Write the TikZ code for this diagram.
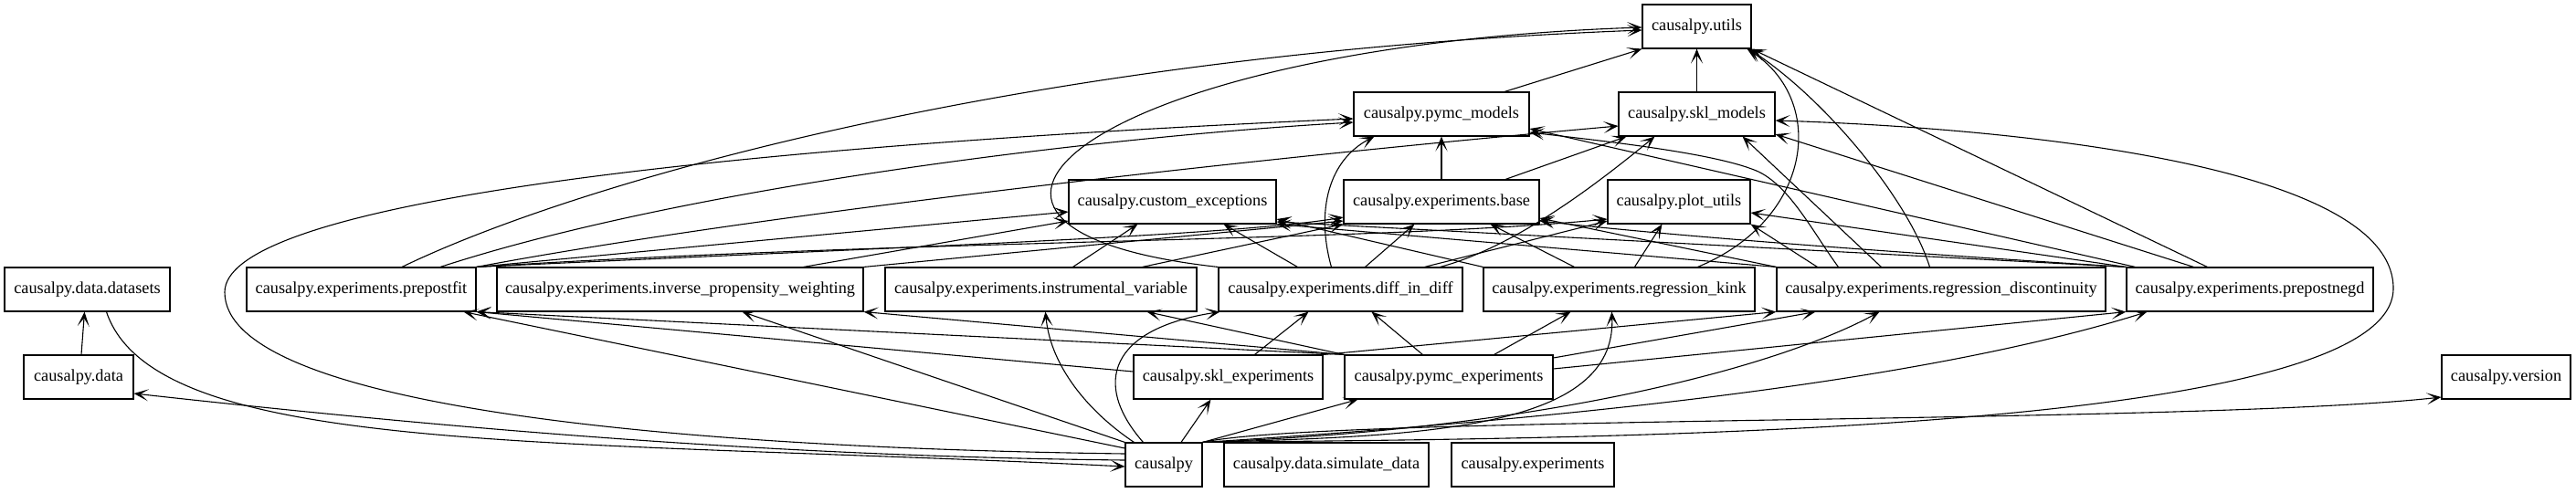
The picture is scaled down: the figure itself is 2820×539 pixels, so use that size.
\documentclass[tikz,border=0pt]{standalone}
\usepackage{fontspec}
\setmainfont{Liberation Serif}
\usepackage{tikz}
\usetikzlibrary{arrows.meta,calc}
\tikzset{
    module/.style={rectangle, draw, line width=1.1pt, minimum height=48pt, inner xsep=2pt,
      font=\fontsize{18.3}{20}\selectfont},
    dep/.style={-{Stealth[length=16pt,width=13pt,inset=9pt]}, line width=1.1pt},
}
\begin{document}
\begin{tikzpicture}[x=1pt,y=-1pt]
\useasboundingbox (0,0) rectangle (2820,539);

% top rows
\node[module, minimum width=119pt] (utils) at (1857.5,29) {causalpy.utils};
\node[module, minimum width=192pt] (pymcmodels) at (1578,125) {causalpy.pymc\_models};
\node[module, minimum width=171pt] (sklmodels) at (1857.5,125) {causalpy.skl\_models};
\node[module, minimum width=227pt] (exceptions) at (1283.5,221) {causalpy.custom\_exceptions};
\node[module, minimum width=214pt] (base) at (1578,221) {causalpy.experiments.base};
\node[module, minimum width=156pt] (plotutils) at (1838,221) {causalpy.plot\_utils};

% experiment row
\node[module, minimum width=181pt] (datasets) at (95.5,317) {causalpy.data.datasets};
\node[module, minimum width=251pt] (prepostfit) at (395.5,317) {causalpy.experiments.prepostfit};
\node[module, minimum width=401pt] (ipw) at (744.5,317) {causalpy.experiments.inverse\_propensity\_weighting};
\node[module, minimum width=341pt] (iv) at (1139.5,317) {causalpy.experiments.instrumental\_variable};
\node[module, minimum width=267pt] (did) at (1467.5,317) {causalpy.experiments.diff\_in\_diff};
\node[module, minimum width=297pt] (kink) at (1772.5,317) {causalpy.experiments.regression\_kink};
\node[module, minimum width=360pt] (rdd) at (2125,317) {causalpy.experiments.regression\_discontinuity};
\node[module, minimum width=270pt] (negd) at (2463,317) {causalpy.experiments.prepostnegd};

% bottom rows
\node[module, minimum width=120pt] (data) at (86,413) {causalpy.data};
\node[module, minimum width=207pt] (sklexp) at (1344.5,413) {causalpy.skl\_experiments};
\node[module, minimum width=228pt] (pymcexp) at (1586,413) {causalpy.pymc\_experiments};
\node[module, minimum width=141pt] (version) at (2743.5,413) {causalpy.version};
\node[module, minimum width=84pt] (causalpy) at (1274,509) {causalpy};
\node[module, minimum width=224pt] (simdata) at (1452,509) {causalpy.data.simulate\_data};
\node[module, minimum width=178pt] (experiments) at (1678,509) {causalpy.experiments};

% models and utils
\draw[dep] ($(pymcmodels.north)+(69,0)$) -- (utils.south west);
\draw[dep] (sklmodels.north) -- (utils.south);
\draw[dep] (base.north) -- (pymcmodels.south);
\draw[dep] ($(base.north)+(70,0)$) -- ($(sklmodels.south west)+(9,0)$);
\draw[dep] ($(data.north)+(3,0)$) -- ($(datasets.south)+(-3,0)$);

% prepostfit
\draw[dep] ($(prepostfit.north)+(44.5,0)$) .. controls (620,205) and (1100,60) .. ($(utils.west)+(0,4)$);
\draw[dep] ($(prepostfit.north)+(86.5,0)$) .. controls (750,205) and (1200,150) .. ($(pymcmodels.west)+(0,9)$);
\draw[dep] (prepostfit.north east) .. controls (800,240) and (1300,180) .. ($(sklmodels.west)+(0,13)$);
\draw[dep] (prepostfit.north east) -- ($(exceptions.west)+(0,11)$);
\draw[dep] (prepostfit.north east) .. controls (1000,270) and (1350,258) .. ($(base.west)+(0,17)$);
\draw[dep] (prepostfit.north east) .. controls (1000,262) and (1500,265) .. ($(plotutils.west)+(0,19)$);

% inverse propensity weighting, instrumental variable
\draw[dep] ($(ipw.north west)+(336,0)$) -- ($(exceptions.west)+(0,21)$);
\draw[dep] (ipw.north east) -- ($(base.west)+(0,21)$);
\draw[dep] ($(iv.north west)+(206,0)$) -- ($(exceptions.south west)+(76,0)$);
\draw[dep] ($(iv.north west)+(282,0)$) -- (base.south west);

% diff in diff
\draw[dep] ($(did.north west)+(87,0)$) -- ($(exceptions.south east)+(-58,0)$);
\draw[dep] ($(did.north west)+(124,0)$) .. controls (1440,230) and (1455,175) .. ($(pymcmodels.south west)+(23,0)$);
\draw[dep] ($(did.north west)+(161,0)$) -- ($(base.south west)+(78,0)$);
\draw[dep] ($(did.north west)+(226,0)$) -- ($(plotutils.west)+(0,21)$);
\draw[dep] ($(did.north west)+(243,0)$) .. controls (1660,270) and (1750,200) .. ($(sklmodels.south west)+(40,0)$);
\draw[dep] (did.north west) .. controls (950,250) and (1200,50) .. ($(utils.west)+(0,1)$);

% regression kink
\draw[dep] (kink.north west) -- ($(exceptions.east)+(0,19)$);
\draw[dep] ($(kink.north west)+(100,0)$) -- ($(base.south east)+(-54,0)$);
\draw[dep] ($(kink.north west)+(166,0)$) -- ($(plotutils.south west)+(60,0)$);
\draw[dep] ($(kink.north west)+(235,0)$) .. controls (1985,240) and (2000,110) .. ($(utils.south east)+(-5,0)$);

% regression discontinuity
\draw[dep] (rdd.north west) -- (exceptions.south east);
\draw[dep] (rdd.north west) -- ($(base.east)+(0,18)$);
\draw[dep] ($(rdd.north west)+(45,0)$) -- (plotutils.south east);
\draw[dep] ($(rdd.north west)+(68,0)$) .. controls (1985,255) and (1960,205) .. (1925,188)
    .. controls (1880,168) and (1760,155) .. ($(pymcmodels.east)+(0,20)$);
\draw[dep] ($(rdd.north west)+(115,0)$) -- ($(sklmodels.south east)+(-36,0)$);
\draw[dep] ($(rdd.north west)+(168,0)$) .. controls (2090,220) and (2000,110) .. ($(utils.south east)+(-3,0)$);

% prepostnegd
\draw[dep] (negd.north west) -- ($(exceptions.east)+(0,22)$);
\draw[dep] (negd.north west) .. controls (2000,272) and (1800,255) .. ($(base.east)+(0,21)$);
\draw[dep] (negd.north west) -- ($(plotutils.east)+(0,12)$);
\draw[dep] ($(negd.north west)+(10,0)$) -- ($(pymcmodels.east)+(0,16)$);
\draw[dep] ($(negd.north west)+(74,0)$) -- ($(sklmodels.east)+(0,22)$);
\draw[dep] ($(negd.north west)+(89,0)$) -- (utils.south east);

% pymc and skl experiments
\draw[dep] (pymcexp.north west) -- (prepostfit.south east);
\draw[dep] (pymcexp.north west) -- (ipw.south east);
\draw[dep] (pymcexp.north west) -- ($(iv.south east)+(-55,0)$);
\draw[dep] ($(pymcexp.north west)+(86,0)$) -- ($(did.south west)+(168,0)$);
\draw[dep] ($(pymcexp.north east)+(-65,0)$) -- ($(kink.south west)+(96,0)$);
\draw[dep] ($(pymcexp.east)+(0,-21)$) -- ($(rdd.south west)+(43,0)$);
\draw[dep] ($(pymcexp.east)+(0,-9)$) -- (negd.south west);
\draw[dep] ($(sklexp.north west)+(133,0)$) -- ($(did.south west)+(99,0)$);
\draw[dep] (sklexp.north east) -- (rdd.south west);
\draw[dep] ($(sklexp.west)+(0,-6)$) -- (prepostfit.south east);

% causalpy
\draw[dep] (causalpy.north west) -- ($(ipw.south west)+(269,0)$);
\draw[dep] ($(causalpy.west)+(0,-18)$) -- ($(prepostfit.south east)+(-14,0)$);
\draw[dep] ($(causalpy.west)+(0,-12)$) .. controls (700,490) and (246,440) .. (246,320)
    .. controls (246,230) and (700,165) .. ($(pymcmodels.west)+(0,5)$);
\draw[dep] ($(causalpy.west)+(0,-5)$) .. controls (850,500) and (500,470) .. ($(data.east)+(0,18)$);
\draw[dep] ($(datasets.south)+(21,0)$) .. controls (170,500) and (600,480) .. ($(causalpy.west)+(0,2)$);
\draw[dep] ($(causalpy.north west)+(10,0)$) .. controls (1190,450) and (1150,400) .. ($(iv.south west)+(176,0)$);
\draw[dep] ($(causalpy.north west)+(20,0)$) .. controls (1195,420) and (1215,360) .. ($(did.south west)+(2,0)$);
\draw[dep] ($(causalpy.north)+(19,0)$) -- ($(sklexp.south west)+(85,0)$);
\draw[dep] (causalpy.north east) -- ($(pymcexp.south west)+(15,0)$);
\draw[dep] (causalpy.north east) .. controls (1560,478) and (1770,470) .. ($(kink.south west)+(141,0)$);
\draw[dep] (causalpy.north east) .. controls (1700,470) and (1950,400) .. ($(rdd.south west)+(113,0)$);
\draw[dep] (causalpy.north east) .. controls (1700,460) and (2100,420) .. ($(negd.south west)+(23,0)$);
\draw[dep] (causalpy.north east) .. controls (1450,455) and (2400,465) .. ($(version.west)+(0,22)$);
\draw[dep] (causalpy.north east) .. controls (1700,480) and (2620,480) .. (2620,316)
    .. controls (2620,180) and (2200,140) .. ($(sklmodels.east)+(0,7)$);
\end{tikzpicture}
\end{document}
